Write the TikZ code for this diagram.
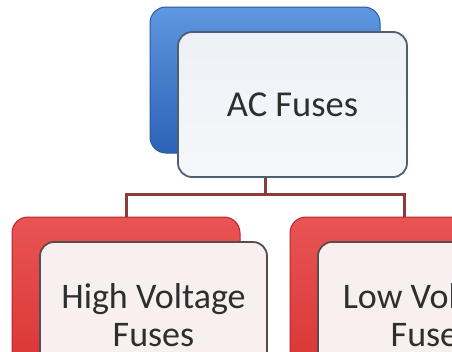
\documentclass[tikz,border=0pt]{standalone}
\usepackage{fontspec}
\setmainfont{Carlito}
\definecolor{bluetop}{HTML}{5F97E0}
\definecolor{bluebot}{HTML}{2C62B6}
\definecolor{blueedge}{HTML}{2858A6}
\definecolor{redtop}{HTML}{E95454}
\definecolor{redbot}{HTML}{D83232}
\definecolor{rededge}{HTML}{B82424}
\definecolor{acfill}{HTML}{EDF1F6}
\definecolor{acfillb}{HTML}{F5F7FA}
\definecolor{acedge}{HTML}{4F5F73}
\definecolor{pinkfill}{HTML}{F8F0F0}
\definecolor{pinkedge}{HTML}{5A4C4C}
\definecolor{linkcol}{HTML}{8C3B3B}
\definecolor{txtcol}{HTML}{2E2E2E}
\begin{document}
\begin{tikzpicture}[x=1pt,y=-1pt,
  blueback/.style={rectangle, rounded corners=16pt, draw=blueedge, line width=1pt,
    top color=bluetop, bottom color=bluebot, inner sep=0pt,
    minimum width=230pt, minimum height=146pt},
  redback/.style={rectangle, rounded corners=16pt, draw=rededge, line width=1pt,
    top color=redtop, bottom color=redbot, inner sep=0pt,
    minimum width=228pt, minimum height=170pt},
  acfront/.style={rectangle, rounded corners=14pt, draw=acedge, line width=1.8pt,
    top color=acfill, bottom color=acfillb, inner sep=0pt,
    minimum width=229pt, minimum height=145pt,
    font=\fontsize{36.5pt}{40pt}\selectfont, text=txtcol},
  redfront/.style={rectangle, rounded corners=14pt, draw=pinkedge, line width=1.8pt,
    fill=pinkfill, inner sep=0pt, minimum width=227pt, minimum height=170pt},
  boxtext/.style={align=center, inner sep=0pt, text=txtcol,
    font=\fontsize{36pt}{38pt}\selectfont},
  link/.style={draw=linkcol, line width=3pt}
]
\useasboundingbox (0,0) rectangle (452,351);
\clip (0,0) rectangle (452,351);
\fill[white] (0,0) rectangle (452,351);

% back boxes
\node[blueback] (acback) at (265,80) {};
\node[redback] (hvback) at (126,302) {};
\node[redback] (lvback) at (404,302) {};

% connectors
\coordinate (bus) at (265,194);
\draw[link] (acback.south) -- (bus) -| (hvback.north);
\draw[link] (bus) -| (lvback.north);

% front boxes
\node[acfront] (acfront) at (292.5,104.5) {AC Fuses};
\node[redfront] (hvfront) at (153.5,327) {};
\node[redfront] (lvfront) at (431.5,327) {};
\node[boxtext] (hvtext) at (153.5,315) {High Voltage\\Fuses};
\node[boxtext] (lvtext) at (431.5,315) {Low Voltage\\Fuses};
\end{tikzpicture}
\end{document}
